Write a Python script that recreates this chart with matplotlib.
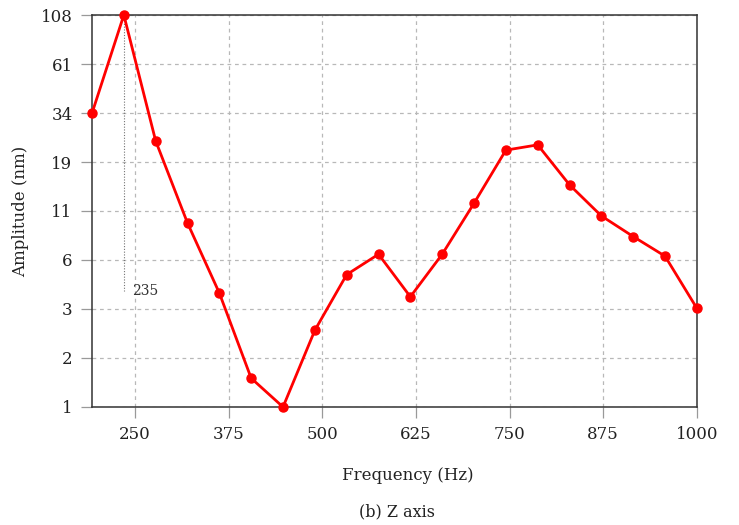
import numpy as np
import matplotlib
matplotlib.use("Agg")
import matplotlib.pyplot as plt
from matplotlib.ticker import FixedLocator, NullLocator

# Z-axis response
freq_hz = [192.5, 235, 277.5, 320, 362.5, 405, 447.5, 490, 532.5, 575,
           617.5, 660, 702.5, 745, 787.5, 830, 872.5, 915, 957.5, 1000]
amp_nm = [33.4, 108, 24.0, 9.0, 3.9, 1.41, 1.0, 2.5, 4.86, 6.2,
          3.73, 6.2, 11.4, 21.5, 22.9, 14.2, 9.8, 7.66, 6.06, 3.25]

x_ticks = [250, 375, 500, 625, 750, 875, 1000]
y_tick_labels = ["1", "2", "3", "6", "11", "19", "34", "61", "108"]
peak_freq = 235

serif = ["DejaVu Serif"]

fig = plt.figure(figsize=(7.39, 5.25), dpi=100)
ax = fig.add_axes([0.1245, 0.2248, 0.8185, 0.7466])

ax.plot(freq_hz, amp_nm, color="#ff0000", lw=2.0, marker="o", ms=6.5,
        zorder=3, clip_on=False)

ax.set_yscale("log")
ax.set_ylim(1, 108)
ax.set_xlim(freq_hz[0], 1000)

# equally spaced log ticks, labelled with the rounded values
y_ticks = np.geomspace(1, 108, len(y_tick_labels))
ax.yaxis.set_major_locator(FixedLocator(y_ticks))
ax.yaxis.set_minor_locator(NullLocator())
ax.set_yticklabels(y_tick_labels, fontfamily=serif, fontsize=12)
ax.set_xticks(x_ticks)
ax.set_xticklabels([str(t) for t in x_ticks], fontfamily=serif, fontsize=12)

ax.grid(True, color="0.72", ls=(0, (3, 3)), lw=0.9)
ax.tick_params(axis="both", direction="out", length=8, width=0.9,
               color="0.6", pad=6, labelcolor="#222222")
for sp in ax.spines.values():
    sp.set_color("#333333")
    sp.set_linewidth(1.1)

# peak marker
ax.plot([peak_freq, peak_freq], [108, 4.0], color="0.45", lw=0.8,
        ls=(0, (1, 1.5)), zorder=2)
ax.text(peak_freq + 11, 4.0, "235", fontfamily=serif, fontsize=10,
        color="#333333", va="center", ha="left")

ax.set_ylabel("Amplitude (nm)", fontfamily=serif, fontsize=12, labelpad=8,
              color="#222222")
fig.text(0.552, 0.095, "Frequency (Hz)", fontfamily=serif, fontsize=12,
         ha="center", va="center", color="#222222")
fig.text(0.537, 0.025, "(b) Z axis", fontfamily=serif, fontsize=11.5,
         ha="center", va="center", color="#222222")

fig.savefig("out.png", dpi=100)
